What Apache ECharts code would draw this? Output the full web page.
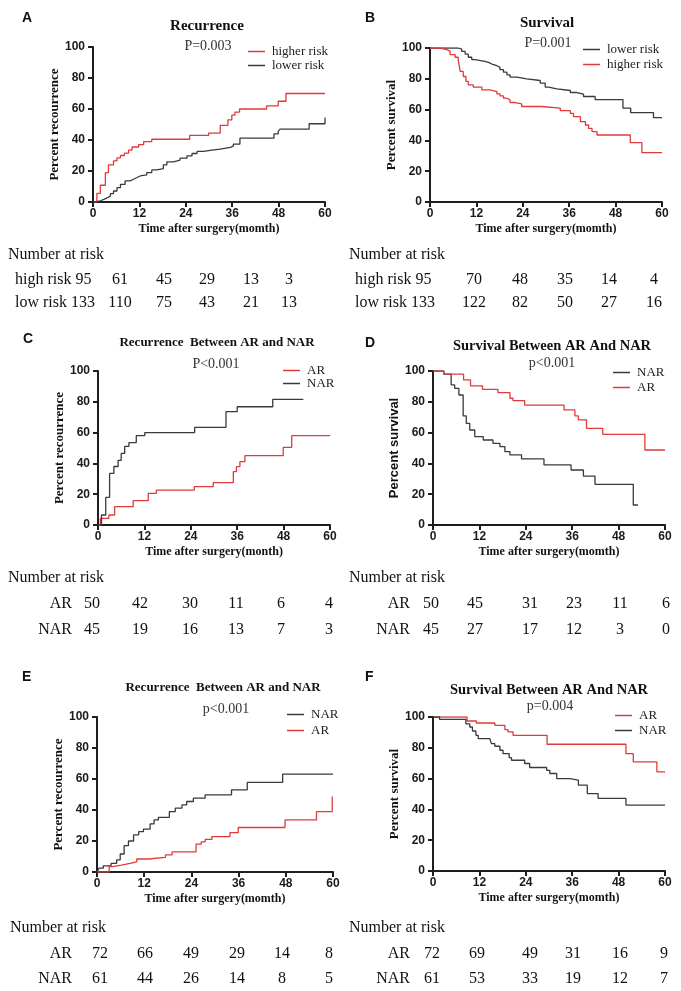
<!DOCTYPE html>
<html><head><meta charset="utf-8">
<script src="https://cdn.jsdelivr.net/npm/echarts@6/dist/echarts.min.js"></script>
<style>html,body{margin:0;padding:0;background:#fff}#c{width:681px;height:991px}</style>
</head><body><div id="c"></div>
<script>
// ---------- DATA ----------
const xTicks = [0, 12, 24, 36, 48, 60];
// Panel A: recurrence (step points: [month, percent])
const A_higher = [[0,0],[1.0,5.6],[1.9,10.8],[3.2,19],[4.0,24],[5.3,26.5],[6.2,28.5],[7.1,30],[8.1,31.5],[9.2,33.5],[10.1,35.5],[11.8,37],[13.1,39],[15.2,40.5],[25,43],[29.9,44.5],[32.9,49.5],[34.9,53],[35.9,56],[36.7,58],[37.9,60],[44.9,62],[47.9,65],[49.9,70],[60,70]];
const A_lower = [[0,0],[0.6,0.8],[1.9,1.7],[2.8,2.8],[3.8,3.9],[4.5,5.4],[5.3,7.1],[6.2,9.3],[7.1,11.4],[8.3,13.6],[9.6,14.7],[10.5,15.8],[11.4,16.8],[12.2,17.5],[13.9,19],[15.2,20.7],[16.5,21.6],[18.2,24],[19.1,25.9],[20.8,27],[22.5,28.3],[24.3,29.8],[25.6,31.3],[26.9,32.6],[28.6,33.5],[30.7,34.1],[32.9,35.2],[35.5,36],[36.3,37.4],[38,41.2],[46.8,44],[47.9,45.6],[48.4,47],[55.9,50.5],[60,54.5]];
// Panel B: survival
const B_lower = [[0,100],[7.3,99.3],[8.2,97.8],[9.1,96],[9.9,94],[10.8,92.4],[11.7,91.3],[14.2,90.7],[15.1,89.6],[16,88.5],[17.3,87.4],[18.1,85.9],[19,84.3],[19.9,82.6],[20.7,81.1],[22.5,80],[25,78.9],[28.5,77.2],[29.8,74.6],[30.7,73.5],[32.8,72.4],[36.3,71.1],[38,70],[39.7,68.5],[42.7,66.5],[49.9,60.9],[51.9,58],[57.8,54.8],[60,54.8]];
const B_higher = [[0,100],[2.6,99],[4.3,98],[5.2,95.7],[6.5,94],[7.3,92.4],[7.8,84.8],[8.6,81.5],[9.3,78.3],[9.9,76],[11.2,74.6],[13.4,72.8],[15.5,71.7],[17.3,70.2],[18.1,68.9],[19,67.4],[19.9,66.3],[20.7,64.6],[22,63.7],[23.7,62],[28.9,60.9],[33.7,59.3],[36.3,57.6],[37.1,55.4],[38.9,52.2],[40.2,50],[41,47.8],[41.9,45.7],[43.2,43.5],[51.8,38.5],[54.8,32],[60,32]];
// Panel C: recurrence AR vs NAR
const C_AR = [[0,0],[0.6,4.3],[2.8,6.5],[4.3,11.9],[9.1,15.8],[13,20.6],[15.1,22.7],[24.9,24.9],[29.8,27.5],[35,34.6],[35.8,37.9],[36.7,41.1],[38,45],[47.9,50.4],[50.1,58],[60,58]];
const C_NAR = [[0,0],[0.9,6.5],[2.0,18],[3.0,33.5],[4.1,38],[5.2,42],[6.0,46.5],[6.9,51],[8.0,53.5],[9.9,58],[12.1,60],[25,63.4],[33.1,73.6],[36,76.8],[45.2,81.6],[53.1,81.6]];
// Panel D: survival AR vs NAR
const D_NAR = [[0,100],[2.8,98],[4.7,91],[5.6,88.7],[6.7,84.4],[7.8,70.8],[8.6,66],[9.5,61.7],[10.8,57.4],[13,55.2],[15.5,53],[17.3,50.9],[18.6,47.6],[19.9,45.5],[22.9,42.9],[28.7,39],[35.7,35.7],[38.9,31.8],[41.9,26.4],[51.8,13],[53,13]];
const D_AR = [[0,100],[2.8,98],[7.9,94.2],[9.7,90.3],[12.8,88.1],[16.8,86],[19.9,82.3],[20.7,80.7],[23.7,77.9],[33.9,74.7],[36.7,70.8],[37.6,68.2],[39.7,62.8],[43.9,58.9],[54.8,48.7],[60,48.7]];
// Panel E: recurrence AR vs NAR
const E_NAR = [[0,0],[0.5,2.5],[1.6,4],[3.6,5.6],[5.0,7.8],[5.9,11.6],[6.9,17],[8.0,20],[9.3,24],[10.6,26],[11.8,27.6],[13.5,31],[14.5,33.6],[15.6,35.3],[18.4,39],[19.9,41.2],[21.6,43.3],[22.8,45.5],[24.5,47.6],[27.5,49.8],[34.2,53],[38.2,57.8],[47.2,63.1],[60,63.1]];
const E_AR = [[0,0],[3.1,3.5],[3.9,4.5],[6.2,5.6],[8.4,6.6],[10.1,8.4],[13.1,9.5],[17.4,11],[19.1,13],[25.2,18],[26.5,19.5],[27.5,21],[29.2,22.8],[33.8,25.4],[35.9,28.7],[47.8,33.6],[55.8,39],[59.8,48.7]];
// Panel F: survival AR vs NAR
const F_AR = [[0,100],[8.8,97.4],[11.2,96.1],[16,94.6],[18.6,91.8],[19.4,90.3],[20.7,88.1],[29.5,82.3],[49.9,76.2],[51.8,70.8],[57.9,64.4],[60,64.4]];
const F_NAR = [[0,100],[1.7,98.5],[8.5,95.6],[9.5,93.5],[10.2,90.9],[11.1,88.1],[11.7,85.9],[14.7,84.9],[15.1,82.7],[16,81],[17.3,78.4],[18.1,76.2],[19.7,73.6],[20.3,71.9],[23.7,69.8],[25,67.2],[29.4,65.4],[30.2,63.3],[32,60],[35.4,59],[37.6,55.7],[39.9,50.3],[42.7,47.1],[49.9,42.8],[60,42.8]];

// Number-at-risk tables
const riskA_high = [95, 61, 45, 29, 13, 3];
const riskA_low  = [133, 110, 75, 43, 21, 13];
const riskB_high = [95, 70, 48, 35, 14, 4];
const riskB_low  = [133, 122, 82, 50, 27, 16];
const riskC_AR   = [50, 42, 30, 11, 6, 4];
const riskC_NAR  = [45, 19, 16, 13, 7, 3];
const riskD_AR   = [50, 45, 31, 23, 11, 6];
const riskD_NAR  = [45, 27, 17, 12, 3, 0];
const riskE_AR   = [72, 66, 49, 29, 14, 8];
const riskE_NAR  = [61, 44, 26, 14, 8, 5];
const riskF_AR   = [72, 69, 49, 31, 16, 9];
const riskF_NAR  = [61, 53, 33, 19, 12, 7];

// ---------- LAYOUT / STYLE ----------
const RED = '#e03a3a', BLACK = '#3a3a3a', AX = '#1e1e1e';
const SERIF = '"Liberation Serif","Times New Roman",serif';
const SANS = '"Liberation Sans",Arial,sans-serif';

const panels = [
  {letter:'A', lp:[22,18], title:'Recurrence', tp:[207,26], tsize:15, p:'P=0.003', pp:[208,46],
   grid:{left:93,top:47,width:232,height:155}, yname:'Percent recourrence', ynameFont:SERIF,
   xname:'Time after surgery(momth)',
   series:[['higher risk',A_higher,RED],['lower risk',A_lower,BLACK]], legend:{left:248,top:45,gap:1}},
  {letter:'B', lp:[365,18], title:'Survival', tp:[547,23], tsize:15, p:'P=0.001', pp:[548,43],
   grid:{left:430,top:48,width:232,height:154}, yname:'Percent survival', ynameFont:SERIF,
   xname:'Time after surgery(momth)',
   series:[['lower risk',B_lower,BLACK],['higher risk',B_higher,RED]], legend:{left:583,top:43,gap:2}},
  {letter:'C', lp:[23,339], title:'Recurrence  Between AR and NAR', tp:[217,343], tsize:13, p:'P<0.001', pp:[216,364],
   grid:{left:98,top:371,width:232,height:154}, yname:'Percent recourrence', ynameFont:SERIF,
   xname:'Time after surgery(month)',
   series:[['AR',C_AR,RED],['NAR',C_NAR,BLACK]], legend:{left:283,top:364,gap:0}},
  {letter:'D', lp:[365,343], title:'Survival Between AR And NAR', tp:[552,346], tsize:14.5, p:'p<0.001', pp:[552,363],
   grid:{left:433,top:371,width:232,height:154}, yname:'Percent survival', ynameFont:SANS,
   xname:'Time after surgery(momth)',
   series:[['NAR',D_NAR,BLACK],['AR',D_AR,RED]], legend:{left:613,top:366,gap:2}},
  {letter:'E', lp:[22,677], title:'Recurrence  Between AR and NAR', tp:[223,688], tsize:13, p:'p<0.001', pp:[226,709],
   grid:{left:97,top:717,width:236,height:155}, yname:'Percent recourrence', ynameFont:SERIF,
   xname:'Time after surgery(momth)',
   series:[['NAR',E_NAR,BLACK],['AR',E_AR,RED]], legend:{left:287,top:708,gap:3}},
  {letter:'F', lp:[365,677], title:'Survival Between AR And NAR', tp:[549,690], tsize:14.5, p:'p=0.004', pp:[550,706],
   grid:{left:433,top:717,width:232,height:154}, yname:'Percent survival', ynameFont:SERIF,
   xname:'Time after surgery(momth)',
   series:[['AR',F_AR,RED],['NAR',F_NAR,BLACK]], legend:{left:615,top:709,gap:2}}
];

// risk tables layout
const riskTables = [
  {head:[8,255], rows:[{label:'high risk', vals:riskA_high, y:280},{label:'low risk', vals:riskA_low, y:303}],
   inline:true, labelX:15, cols:[120,164,207,251,289]},
  {head:[349,255], rows:[{label:'high risk', vals:riskB_high, y:280},{label:'low risk', vals:riskB_low, y:303}],
   inline:true, labelX:355, cols:[474,520,565,609,654]},
  {head:[8,578], rows:[{label:'AR', vals:riskC_AR, y:604},{label:'NAR', vals:riskC_NAR, y:630}],
   inline:false, labelRight:72, cols:[92,140,190,236,281,329]},
  {head:[349,578], rows:[{label:'AR', vals:riskD_AR, y:604},{label:'NAR', vals:riskD_NAR, y:630}],
   inline:false, labelRight:410, cols:[431,475,530,574,620,666]},
  {head:[10,928], rows:[{label:'AR', vals:riskE_AR, y:954},{label:'NAR', vals:riskE_NAR, y:979}],
   inline:false, labelRight:72, cols:[100,145,191,237,282,329]},
  {head:[349,928], rows:[{label:'AR', vals:riskF_AR, y:954},{label:'NAR', vals:riskF_NAR, y:979}],
   inline:false, labelRight:410, cols:[432,477,530,573,620,664]}
];

// ---------- BUILD ----------
const grid = [], xAxis = [], yAxis = [], series = [], legend = [], graphic = [];
function txt(x, y, s, o) {
  graphic.push({type:'text', x:x, y:y, silent:true,
    style:Object.assign({text:String(s), fill:'#111', align:'center', verticalAlign:'middle',
      font:'normal 16px ' + SERIF}, o || {})});
}
panels.forEach((p, i) => {
  grid.push(Object.assign({containLabel:false}, p.grid));
  xAxis.push({type:'value', gridIndex:i, min:0, max:60, interval:12,
    axisLine:{show:true, onZero:false, lineStyle:{color:AX, width:2}},
    axisTick:{show:true, length:5, lineStyle:{color:AX, width:2}},
    axisLabel:{fontFamily:SANS, fontWeight:'bold', fontSize:12, color:'#1a1a1a', margin:6},
    splitLine:{show:false},
    name:p.xname, nameLocation:'middle', nameGap:21,
    nameTextStyle:{fontFamily:SERIF, fontWeight:'bold', fontSize:12, color:'#111'}});
  yAxis.push({type:'value', gridIndex:i, min:0, max:100, interval:20,
    axisLine:{show:true, onZero:false, lineStyle:{color:AX, width:2}},
    axisTick:{show:true, length:5, lineStyle:{color:AX, width:2}},
    axisLabel:{fontFamily:SANS, fontWeight:'bold', fontSize:12, color:'#1a1a1a', margin:8},
    splitLine:{show:false},
    name:p.yname, nameLocation:'middle', nameGap:31, nameRotate:90,
    nameTextStyle:{fontFamily:p.ynameFont, fontWeight:'bold', fontSize:13, color:'#111'}});
  p.series.forEach(s => {
    series.push({type:'line', name:s[0], xAxisIndex:i, yAxisIndex:i, data:s[1], step:'end',
      showSymbol:false, symbol:'none', color:s[2], lineStyle:{color:s[2], width:1.3},
      animation:false, silent:true});
  });
  legend.push({left:p.legend.left, top:p.legend.top, orient:'vertical', itemGap:p.legend.gap,
    data:p.series.map(s => s[0]), icon:'rect', itemWidth:17, itemHeight:1.5,
    textStyle:{fontFamily:SERIF, fontSize:13, color:'#222', padding:[0,0,0,2]},
    selectedMode:false, padding:0});
  txt(p.lp[0], p.lp[1], p.letter, {font:'bold 14px ' + SANS, align:'left'});
  txt(p.tp[0], p.tp[1], p.title, {font:'bold ' + p.tsize + 'px ' + SERIF});
  txt(p.pp[0], p.pp[1], p.p, {font:'normal 14px ' + SERIF, fill:'#333'});
});
riskTables.forEach(t => {
  txt(t.head[0], t.head[1], 'Number at risk', {align:'left'});
  t.rows.forEach(r => {
    if (t.inline) {
      txt(t.labelX, r.y, r.label + ' ' + r.vals[0], {align:'left'});
      r.vals.slice(1).forEach((v, k) => txt(t.cols[k], r.y, v));
    } else {
      txt(t.labelRight, r.y, r.label, {align:'right'});
      r.vals.forEach((v, k) => txt(t.cols[k], r.y, v));
    }
  });
});

const chart = echarts.init(document.getElementById('c'), null, {renderer:'canvas'});
chart.setOption({animation:false, backgroundColor:'#fff', grid, xAxis, yAxis, series, legend, graphic});
</script></body></html>
